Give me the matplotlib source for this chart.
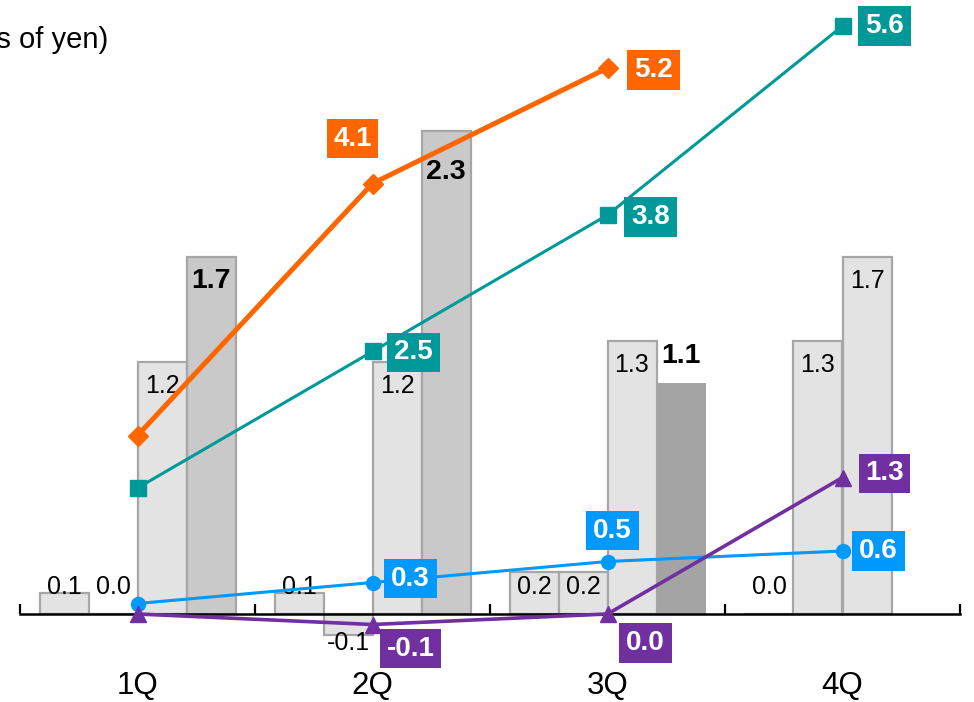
import numpy as np
import matplotlib.pyplot as plt

plt.rcParams['font.family'] = ['Liberation Sans', 'DejaVu Sans']

# Data (billions of yen)
quarters = ['1Q', '2Q', '3Q', '4Q']
bar_a = [0.1, 0.1, 0.2, 0.0]
bar_b = [0.0, -0.1, 0.2, 1.3]
bar_c = [1.2, 1.2, 1.3, 1.7]
bar_d = [1.7, 2.3, 1.1]
cum_orange = [1.7, 4.1, 5.2]
cum_teal = [1.2, 2.5, 3.8, 5.6]
cum_blue = [0.1, 0.3, 0.5, 0.6]
cum_purple = [0.0, -0.1, 0.0, 1.3]

LIGHT, MID, DARK, EDGE = '#E3E3E3', '#C8C9C8', '#A3A4A3', '#A6A6A6'
ORANGE, TEAL, BLUE, PURPLE = '#FF6600', '#009999', '#0099FF', '#7030A0'

fig = plt.figure(figsize=(9.74, 7.02), dpi=100)
ax = fig.add_axes([20 / 974, 0, 940 / 974, 1])
ax.set_xlim(-0.5, 3.5)
ax.set_ylim(-88 / 210, 614 / 210)

x = np.arange(len(quarters))
w = 49 / 235
offsets = [-1.5 * w, -0.5 * w, 0.5 * w, 1.5 * w]

# Bars
ax.bar(x + offsets[0], bar_a, w, color=LIGHT, edgecolor=EDGE, linewidth=1.6, zorder=2)
ax.bar(x + offsets[1], bar_b, w, color=LIGHT, edgecolor=EDGE, linewidth=1.6, zorder=2)
ax.bar(x + offsets[2], bar_c, w, color=LIGHT, edgecolor=EDGE, linewidth=1.6, zorder=2)
xd = x[:len(bar_d)] + offsets[3]
ax.bar(xd[:2], bar_d[:2], w, color=MID, edgecolor=EDGE, linewidth=1.6, zorder=2)
ax.bar(xd[2:], bar_d[2:], w, color=DARK, edgecolor='none', zorder=2)


def bar_label(xp, v, bold=False, dy=None):
    if dy is None:
        if abs(v) < 0.5:
            dy = -29 - v * 210 if v < 0 else 27 - v * 210
        else:
            dy = -24
    ax.annotate(f'{v:.1f}', (xp, v), xytext=(0, dy), textcoords='offset pixels',
                ha='center', va='center', fontsize=20.5 if bold else 18,
                fontweight='bold' if bold else 'normal', zorder=3)


for vals, k in [(bar_a, 0), (bar_b, 1), (bar_c, 2)]:
    for i, v in enumerate(vals):
        bar_label(x[i] + offsets[k], v)
bar_label(xd[0], bar_d[0], bold=True)
bar_label(xd[1], bar_d[1], bold=True, dy=-41)
bar_label(xd[2], bar_d[2], bold=True, dy=27)

# Baseline with upward ticks
ax.spines[['top', 'left', 'right']].set_visible(False)
ax.spines['bottom'].set_position(('data', 0))
ax.spines['bottom'].set_linewidth(1.8)
ax.spines['bottom'].set_zorder(2.5)
ax.set_yticks([])
ax.set_xticks(x)
ax.set_xticklabels(quarters, fontsize=22.5)
ax.tick_params(axis='x', which='major', length=0, pad=41)
ax.set_xticks(np.arange(-0.5, 3.6, 1), minor=True)
ax.tick_params(axis='x', which='minor', direction='in', length=7, width=1.6)

# Cumulative lines on secondary scale
ax2 = ax.twinx()
ax2.set_ylim(-88 / 105, 614 / 105)
ax2.axis('off')
ax2.plot(x[:3], cum_orange, color=ORANGE, lw=3.6, marker='D', ms=10, zorder=3)
ax2.plot(x, cum_teal, color=TEAL, lw=2.2, marker='s', ms=11, zorder=3)
ax2.plot(x, cum_blue, color=BLUE, lw=2.2, marker='o', ms=10, zorder=3)
ax2.plot(x, cum_purple, color=PURPLE, lw=2.6, marker='^', ms=11, zorder=3)


def box_label(xp, v, color, dx, dy):
    ax2.annotate(f'{v:.1f}', (xp, v), xytext=(dx, dy), textcoords='offset pixels',
                 ha='center', va='center', color='white', fontsize=20, fontweight='bold',
                 bbox=dict(boxstyle='square,pad=0.24', fc=color, ec='none'), zorder=4)


box_label(x[1], cum_orange[1], ORANGE, -20, 45)
box_label(x[2], cum_orange[2], ORANGE, 46, -2)
box_label(x[1], cum_teal[1], TEAL, 41, -1)
box_label(x[2], cum_teal[2], TEAL, 43, -2)
box_label(x[3], cum_teal[3], TEAL, 42, 0)
box_label(x[1], cum_blue[1], BLUE, 38, 4)
box_label(x[2], cum_blue[2], BLUE, 5, 31)
box_label(x[3], cum_blue[3], BLUE, 36, 0)
box_label(x[1], cum_purple[1], PURPLE, 38, -24)
box_label(x[2], cum_purple[2], PURPLE, 38, -29)
box_label(x[3], cum_purple[3], PURPLE, 42, 4)

fig.text(108 / 974, 1 - 40 / 702, '(billions of yen)', ha='right', va='center', fontsize=21)

fig.savefig('out.png', dpi=100)
